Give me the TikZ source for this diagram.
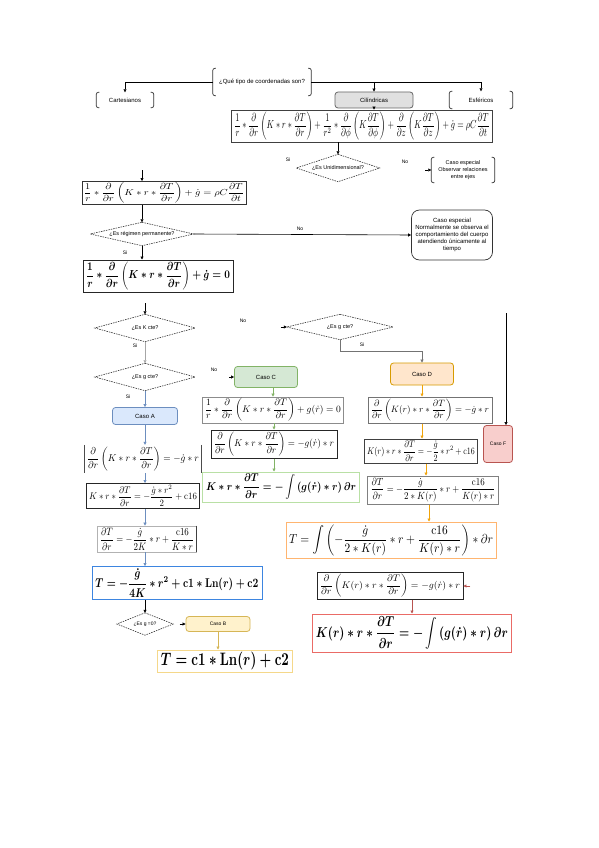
\documentclass[tikz,border=0pt]{standalone}
\usepackage{amsmath}
\usepackage{graphicx}
\usepackage[no-math]{fontspec}
\setmainfont{Liberation Sans}
\usetikzlibrary{arrows.meta}
\definecolor{blueF}{HTML}{DAE8FC}\definecolor{blueD}{HTML}{6C8EBF}
\definecolor{greenF}{HTML}{D5E8D4}\definecolor{greenD}{HTML}{82B366}
\definecolor{orangeF}{HTML}{FFE6CC}\definecolor{orangeD}{HTML}{D79B00}
\definecolor{redF}{HTML}{F8CECC}\definecolor{redD}{HTML}{B85450}
\definecolor{yelF}{HTML}{FFF2CC}\definecolor{yelD}{HTML}{D6B656}
\definecolor{arrOr}{HTML}{F0A30A}
\definecolor{brdGreen}{HTML}{B9E0A5}
\definecolor{brdBlue}{HTML}{3D85E0}
\definecolor{brdYel}{HTML}{F5D88A}
\definecolor{brdOr}{HTML}{FFB570}
\definecolor{brdRed}{HTML}{EA6B66}
\newcommand{\eqfit}[3]{\resizebox*{#1pt}{#2pt}{$\displaystyle #3$}}
\newcommand{\beqfit}[3]{\resizebox*{#1pt}{#2pt}{\boldmath$\displaystyle #3$}}
\newcommand{\pd}[2]{\frac{\partial #1}{\partial #2}}
\begin{document}
\begin{tikzpicture}[x=1pt,y=-1pt,
  txt/.style={font=\fontsize{6}{7}\selectfont, align=center, inner sep=0pt},
  brknode/.style={txt, rectangle},
  brkline/.style={draw=black!80, line width=0.7pt, rounded corners=2pt},
  caso/.style={txt, rectangle, rounded corners=3pt, line width=0.8pt},
  eqn/.style={rectangle, inner sep=0pt},
  dia/.style={rectangle, inner sep=0pt, font=\fontsize{5.5}{6}\selectfont},
  dialine/.style={draw=black!80, dashed, dash pattern=on 1.5pt off 1pt, line width=0.6pt},
  lbl/.style={font=\fontsize{5}{6}\selectfont, inner sep=0pt},
  arr/.style={-{Triangle[length=3pt,width=3pt]}, line width=0.6pt},
]
\useasboundingbox (0,0) rectangle (599,848);
\fill[white] (0,0) rectangle (599,848);

% ---- top
\node[brknode, minimum width=98pt, minimum height=27pt] (q) at (262,82) {¿Qué tipo de coordenadas son?};
\node[brknode, minimum width=57pt, minimum height=15pt] (cart) at (125,100) {Cartesianos};
\node[brknode, minimum width=63pt, minimum height=17pt] (esf) at (481,100) {Esféricos};
\node[caso, draw=black!60, fill=black!12, minimum width=78pt, minimum height=16pt] (cil) at (374,100) {Cilíndricas};
\foreach \n in {q,cart,esf}{
  \draw[brkline] ([xshift=3pt]\n.north west) -- (\n.north west) -- (\n.south west) -- ([xshift=3pt]\n.south west);
  \draw[brkline] ([xshift=-3pt]\n.north east) -- (\n.north east) -- (\n.south east) -- ([xshift=-3pt]\n.south east);
}
\draw[arr] (q.west) -| (cart.north);
\draw[arr] (q.east) -| (esf.north);
\draw[arr] (cil.north |- q.east) -- (cil.north);

\node[eqn, draw=black!75, line width=0.8pt, minimum width=261pt, minimum height=32pt] (eq3d) at (362,126)
 {\eqfit{255}{28}{\frac{1}{r}*\frac{\partial}{\partial r}\left(K*r*\pd{T}{r}\right)+\frac{1}{r^2}*\frac{\partial}{\partial\phi}\left(K\pd{T}{\phi}\right)+\frac{\partial}{\partial z}\left(K\pd{T}{z}\right)+\dot{g}=\rho C\pd{T}{t}}};
\draw[arr] (cil.south) -- (cil.south |- eq3d.north);

% ---- unidimensional
\node[dia, minimum width=83pt, minimum height=27pt] (uni) at (338,168) {¿Es Unidimensional?};
\draw[dialine] (uni.north) -- (uni.east) -- (uni.south) -- (uni.west) -- cycle;
\draw[arr] (uni.north |- eq3d.south) -- (uni.north);
\node[lbl] (si1) at (288,160) {Si};
\node[lbl] (no1) at (405,162) {No};
\node[brknode, font=\fontsize{5.5}{6.6}\selectfont, minimum width=63pt, minimum height=25pt] (esp1) at (463,170) {Caso especial\\Observar relaciones\\entre ejes};
\draw[brkline] ([xshift=3pt]esp1.north west) -- (esp1.north west) -- (esp1.south west) -- ([xshift=3pt]esp1.south west);
\draw[brkline] ([xshift=-3pt]esp1.north east) -- (esp1.north east) -- (esp1.south east) -- ([xshift=-3pt]esp1.south east);
\draw[arr] ([xshift=-6pt]esp1.west) -- (esp1.west);

\coordinate (c1) at (142,170);
\node[eqn, draw=black!80, line width=1pt, minimum width=164pt, minimum height=23pt] (eq1d) at (164,193)
 {\eqfit{160}{21}{\frac{1}{r}*\frac{\partial}{\partial r}\left(K*r*\pd{T}{r}\right)+\dot{g}=\rho C\pd{T}{t}}};
\draw[arr] (c1) -- (c1 |- eq1d.north);

\node[dia, minimum width=103pt, minimum height=23pt] (perm) at (142,234) {¿Es régimen permanente?};
\draw[dialine] (perm.north) -- (perm.east) -- (perm.south) -- (perm.west) -- cycle;
\draw[arr] (perm.north |- eq1d.south) -- (perm.north);

\node[txt, draw=black!80, line width=0.7pt, rounded corners=8pt, minimum width=81pt, minimum height=50pt] (esp2) at (452,235)
 {Caso especial\\Normalmente se observa el\\comportamiento del cuerpo\\atendiendo únicamente al\\tiempo};
\draw[arr] (perm.east) -- (esp2.west);
\node[lbl] (no2) at (300,229) {No};
\node[lbl] (si2) at (125,253) {Si};

\node[eqn, draw=black!85, line width=1pt, minimum width=150pt, minimum height=32pt] (eq1dp) at (158,276)
 {\beqfit{144}{28}{\frac{1}{r}*\frac{\partial}{\partial r}\left(K*r*\pd{T}{r}\right)+\dot{g}=0}};
\draw[arr] (perm.south) -- (perm.south |- eq1dp.north);

% ---- decisions on K and g
\coordinate (c2) at (145,303);
\node[dia, minimum width=100pt, minimum height=27pt] (kcte) at (145,328) {¿Es K cte?};
\draw[dialine] (kcte.north) -- (kcte.east) -- (kcte.south) -- (kcte.west) -- cycle;
\draw[arr] (c2) -- (kcte.north);
\node[lbl] (no3) at (243,321) {No};
\node[lbl] (si3) at (135,346) {Si};

\node[dia, minimum width=106pt, minimum height=25pt] (gcte2) at (340,327) {¿Es g cte?};
\draw[dialine] (gcte2.north) -- (gcte2.east) -- (gcte2.south) -- (gcte2.west) -- cycle;
\draw[arr] ([xshift=-6pt]gcte2.west) -- (gcte2.west);

\node[dia, minimum width=100pt, minimum height=27pt] (gcte1) at (145,377) {¿Es g cte?};
\draw[dialine] (gcte1.north) -- (gcte1.east) -- (gcte1.south) -- (gcte1.west) -- cycle;
\draw[arr, draw=black!35] (kcte.south) -- (gcte1.north);
\node[lbl] (no4) at (214,370) {No};
\node[lbl] (si4) at (128,397) {Si};
\node[lbl] (si5) at (362,345) {Si};

\node[caso, draw=orangeD, fill=orangeF, minimum width=63pt, minimum height=22pt] (casoD) at (422,374) {Caso D};
\draw[arr, draw=black!55] (gcte2.south) -- ++(0,12) -| (casoD.north);

\node[caso, draw=greenD, fill=greenF, minimum width=63pt, minimum height=21pt] (casoC) at (266,377) {Caso C};
\draw[arr] ([xshift=-5pt]casoC.west) -- (casoC.west);

\node[caso, draw=blueD, fill=blueF, minimum width=65pt, minimum height=17pt] (casoA) at (145,416) {Caso A};
\draw[arr, draw=blueD] (gcte1.south) -- (casoA.north);

\coordinate (cF) at (506,313);
\node[caso, draw=redD, fill=redF, minimum width=29pt, minimum height=37pt, font=\fontsize{5}{6}\selectfont] (casoF) at (498,444) {Caso F};
\draw[arr] (cF) -- (cF |- casoF.north);

% ---- Caso C chain
\node[eqn, draw=black!45, line width=0.7pt, minimum width=141pt, minimum height=26pt] (eqC1) at (273,410)
 {\eqfit{136}{23}{\frac{1}{r}*\frac{\partial}{\partial r}\left(K*r*\pd{T}{r}\right)+g(\dot{r})=0}};
\draw[arr, draw=greenD] (eqC1.north |- casoC.south) -- (eqC1.north);
\node[eqn, draw=black!85, line width=1pt, minimum width=126pt, minimum height=28pt] (eqC2) at (274,444)
 {\eqfit{120}{24}{\frac{\partial}{\partial r}\left(K*r*\pd{T}{r}\right)=-g(\dot{r})*r}};
\draw[arr, draw=greenD] (eqC2.north |- eqC1.south) -- (eqC2.north);
\node[eqn, draw=brdGreen, line width=1pt, minimum width=157pt, minimum height=30pt] (eqC3) at (281,487)
 {\beqfit{150}{26}{K*r*\pd{T}{r}=-\int\left(g(\dot{r})*r\right)\partial r}};
\draw[arr, draw=greenD] (eqC2.south -| eqC2.north) -- (eqC2.south |- eqC3.north);

% ---- Caso A chain
\node[eqn, minimum width=117pt, minimum height=28pt] (eqA1) at (143,459)
 {\eqfit{112}{24}{\frac{\partial}{\partial r}\left(K*r*\pd{T}{r}\right)=-\dot{g}*r}};
\draw[line width=1pt, draw=black!70] (eqA1.north west) -- (eqA1.south west);
\draw[line width=0.6pt, draw=black!70] (eqA1.north east) -- (eqA1.south east);
\draw[arr, draw=blueD] (casoA.south) -- (casoA.south |- eqA1.north);
\node[eqn, draw=black!85, line width=1pt, minimum width=113pt, minimum height=25pt] (eqA2) at (143,496)
 {\eqfit{108}{21}{K*r*\pd{T}{r}=-\frac{\dot{g}*r^2}{2}+\mathrm{c16}}};
\draw[arr, draw=blueD] (casoA.south |- eqA1.south) -- (casoA.south |- eqA2.north);
\node[eqn, draw=black!30, line width=0.7pt, minimum width=99pt, minimum height=26pt] (eqA3) at (147,539)
 {\eqfit{94}{22}{\pd{T}{r}=-\frac{\dot{g}}{2K}*r+\frac{\mathrm{c16}}{K*r}}};
\draw[line width=0.8pt, draw=black!75] (eqA3.north east) -- (eqA3.south east);
\draw[arr, draw=blueD] (casoA.south |- eqA2.south) -- (casoA.south |- eqA3.north);
\node[eqn, draw=brdBlue, line width=1pt, minimum width=170pt, minimum height=33pt] (eqA4) at (177,583)
 {\beqfit{163}{28}{T=-\frac{\dot{g}}{4K}*r^2+\mathrm{c1}*\mathrm{Ln}(r)+\mathrm{c2}}};
\draw[arr, draw=blueD] (casoA.south |- eqA3.south) -- (casoA.south |- eqA4.north);

\node[dia, minimum width=56pt, minimum height=22pt, font=\fontsize{5}{6}\selectfont] (gz) at (145,624) {¿Es g =0?};
\draw[dialine] (gz.north) -- (gz.east) -- (gz.south) -- (gz.west) -- cycle;
\draw[arr] (gz.north |- eqA4.south) -- (gz.north);
\node[caso, draw=yelD, fill=yelF, minimum width=64pt, minimum height=15pt, font=\fontsize{5}{6}\selectfont] (casoB) at (218,624) {Caso B};
\draw[arr] ([xshift=-6pt]casoB.west) -- (casoB.west);
\node[eqn, draw=brdYel, line width=1pt, minimum width=135pt, minimum height=22pt] (eqB) at (225,661)
 {\beqfit{128}{18}{T=\mathrm{c1}*\mathrm{Ln}(r)+\mathrm{c2}}};
\draw[arr, draw=yelD] (casoB.south) -- (casoB.south |- eqB.north);

% ---- Caso D chain
\node[eqn, draw=black!55, line width=1pt, minimum width=124pt, minimum height=26pt] (eqD1) at (430,410)
 {\eqfit{118}{22}{\frac{\partial}{\partial r}\left(K(r)*r*\pd{T}{r}\right)=-\dot{g}*r}};
\draw[arr, draw=arrOr] (casoD.south) -- (casoD.south |- eqD1.north);
\node[eqn, draw=black!75, line width=1pt, minimum width=113pt, minimum height=24pt] (eqD2) at (421,451)
 {\eqfit{108}{20}{K(r)*r*\pd{T}{r}=-\frac{\dot{g}}{2}*r^2+\mathrm{c16}}};
\draw[arr, draw=arrOr] (casoD.south |- eqD1.south) -- (casoD.south |- eqD2.north);
\node[eqn, draw=black!50, line width=1pt, minimum width=131pt, minimum height=28pt] (eqD3) at (433,490)
 {\eqfit{125}{24}{\pd{T}{r}=-\frac{\dot{g}}{2*K(r)}*r+\frac{\mathrm{c16}}{K(r)*r}}};
\draw[arr, draw=arrOr] ([xshift=5pt]eqD2.south) -- ([xshift=5pt]eqD2.south |- eqD3.north);
\node[eqn, draw=brdOr, line width=1pt, minimum width=210pt, minimum height=36pt] (eqD4) at (391,540)
 {\eqfit{204}{31}{T=\int\left(-\frac{\dot{g}}{2*K(r)}*r+\frac{\mathrm{c16}}{K(r)*r}\right)*\partial r}};
\draw[arr, draw=arrOr] ([xshift=-4pt]eqD3.south) -- ([xshift=-4pt]eqD3.south |- eqD4.north);

% ---- Caso F chain
\node[eqn, draw=black!85, line width=0.8pt, minimum width=146pt, minimum height=27pt] (eqF1) at (390,586)
 {\eqfit{140}{23}{\frac{\partial}{\partial r}\left(K(r)*r*\pd{T}{r}\right)=-g(\dot{r})*r}};
\draw[arr, draw=redD] ([xshift=7pt]eqF1.east) -- (eqF1.east);
\node[eqn, draw=brdRed, line width=1pt, minimum width=199pt, minimum height=38pt] (eqF2) at (412,633)
 {\beqfit{192}{33}{K(r)*r*\pd{T}{r}=-\int\left(g(\dot{r})*r\right)\partial r}};
\draw[arr, draw=redD] (eqF2.north |- eqF1.south) -- (eqF2.north);
\end{tikzpicture}
\end{document}
